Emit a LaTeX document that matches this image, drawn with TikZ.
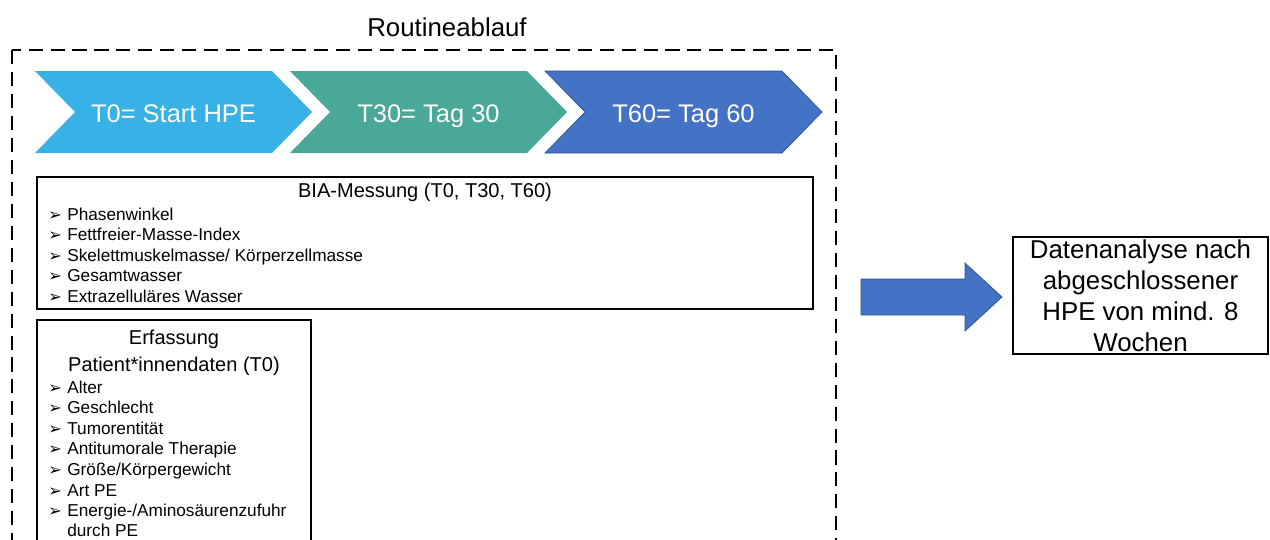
\documentclass[tikz,border=0pt]{standalone}
\usepackage{fontspec}
\setmainfont{Liberation Sans}
\newfontfamily\symfont{DejaVu Sans}
\usepackage{tikz}
\usetikzlibrary{positioning}
\definecolor{phaseA}{RGB}{56,178,230}
\definecolor{phaseB}{RGB}{73,168,152}
\definecolor{phaseC}{RGB}{68,114,196}
\definecolor{phaseCdark}{RGB}{47,82,143}
\tikzstyle{chevtext} = [white, inner sep=0pt, text height=10.4pt, text depth=0pt, font=\fontsize{14.5}{17}\selectfont]
\tikzstyle{boxline} = [line width=0.85pt]
\tikzstyle{head} = [font=\fontsize{11.4}{13.5}\selectfont, inner sep=0pt]
\tikzstyle{item} = [anchor=west, inner sep=0pt, text height=7pt, text depth=0pt, font=\fontsize{9.8}{11.7}\selectfont]
\newcommand{\itm}{\makebox[10.8pt][l]{\symfont\fontsize{9.2}{9}\selectfont\char"27A2}}

\begin{document}
\begin{tikzpicture}[x=0.02cm, y=-0.02cm]
  \clip (0,0) rectangle (1270,539);

  % Routine frame
  \node[font=\fontsize{14.7}{17}\selectfont] (title) at (447,27) {Routineablauf};
  \draw[line width=1.1pt, dash pattern=on 8pt off 4.5pt] (12,50) rectangle (836,570);

  % Phases
  \foreach \x/\c/\t [count=\i] in {35/phaseA/T0= Start HPE, 290/phaseB/T30= Tag 30, 545/phaseC/T60= Tag 60}{
    \fill[\c] (\x,71) -- (\x+237,71) -- (\x+277,112) -- (\x+237,153) -- (\x,153) -- (\x+40,112) -- cycle;
    \node[chevtext] (phase\i) at (\x+138.5,113) {\t};
  }
  \draw[phaseCdark, line width=0.4pt] (545,71) -- (782,71) -- (822,112) -- (782,153) -- (545,153) -- (585,112) -- cycle;

  % BIA
  \draw[boxline] (37,177) rectangle (813,309);
  \node[head] (bia) at (425,192) {BIA-Messung (T0, T30, T60)};
  \foreach \t [count=\i] in {Phasenwinkel, Fettfreier-Masse-Index, Skelettmuskelmasse/ Körperzellmasse, Gesamtwasser, Extrazelluläres Wasser}
    \node[item] (bia\i) at (48,{214+20.5*(\i-1)}) {\itm\t};

  % Patientendaten
  \draw[boxline] (37,320) rectangle (311,570);
  \node[head] (erf) at (174,339) {Erfassung};
  \node[head] (pat) at (174,366) {Patient*innendaten (T0)};
  \foreach \t [count=\i] in {Alter, Geschlecht, Tumorentität, Antitumorale Therapie, Größe/Körpergewicht, Art PE, Energie-/Aminosäurenzufuhr}
    \node[item] (pat\i) at (48,{387+20.6*(\i-1)}) {\itm\t};
  \node[item] (pat8) at (67,530.5) {durch PE};

  % Analyse
  \node[draw, boxline, minimum width=5.1cm, minimum height=2.34cm, align=center, inner sep=0pt,
        font=\fontsize{14.7}{17.6}\selectfont] (ana) at (1140.5,295.5)
        {Datenanalyse nach\\abgeschlossener\\HPE von mind. 8\\Wochen};
  \filldraw[fill=phaseC, draw=phaseCdark, line width=0.4pt]
    (861,279) -- (965,279) -- (965,263) -- (1002,297) -- (965,331) -- (965,315) -- (861,315) -- cycle;
\end{tikzpicture}
\end{document}
